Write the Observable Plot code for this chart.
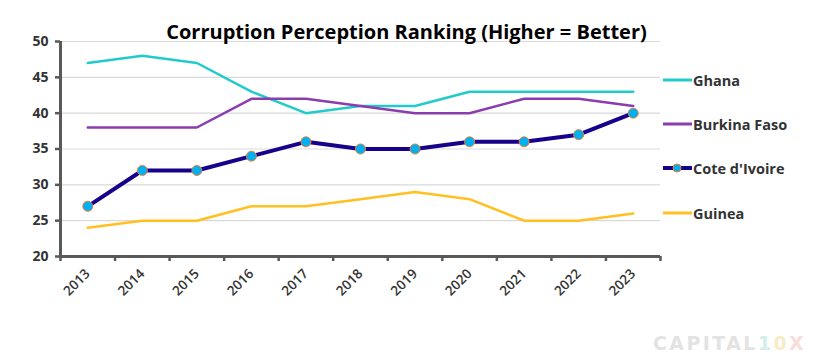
<!DOCTYPE html>
<html>
<head>
<meta charset="utf-8">
<script src="https://cdn.jsdelivr.net/npm/d3@7"></script>
<script src="https://cdn.jsdelivr.net/npm/@observablehq/plot@0.6"></script>
<style>
  html, body { margin: 0; padding: 0; background: #fff; }
  #wrap { position: relative; width: 816px; height: 357px; overflow: hidden; }
  .leg { position: absolute; left: 663px; font-family: "Open Sans", sans-serif; font-weight: 700; font-size: 14.5px; color: #333; display: flex; align-items: center; }
  .leg svg { margin-right: 1px; }
  #logo { position: absolute; left: 653px; top: 334px; line-height: 19px; font-family: "DejaVu Sans", sans-serif; font-weight: 700; font-size: 19px; letter-spacing: 2.4px; white-space: nowrap; }
</style>
</head>
<body>
<div id="wrap"></div>
<script>
const years = [2013, 2014, 2015, 2016, 2017, 2018, 2019, 2020, 2021, 2022, 2023];
const ghana = [47, 48, 47, 43, 40, 41, 41, 43, 43, 43, 43];
const burkinaFaso = [38, 38, 38, 42, 42, 41, 40, 40, 42, 42, 41];
const coteDIvoire = [27, 32, 32, 34, 36, 35, 35, 36, 36, 37, 40];
const guinea = [24, 25, 25, 27, 27, 28, 29, 28, 25, 25, 26];
const seriesNames = ["Ghana", "Burkina Faso", "Cote d'Ivoire", "Guinea"];
const seriesColors = ["#22CBCB", "#8B3DAF", "#17008A", "#FFC020"];
const yTicks = [20, 25, 30, 35, 40, 45, 50];
const title = "Corruption Perception Ranking (Higher = Better)";

const rows = (name, vals) => years.map((y, i) => ({year: y, value: vals[i], series: name}));
const gh = rows("Ghana", ghana);
const bf = rows("Burkina Faso", burkinaFaso);
const ci = rows("Cote d'Ivoire", coteDIvoire);
const gu = rows("Guinea", guinea);
const edges = d3.range(years[0] - 0.5, years[years.length - 1] + 1, 1);

const font = "'Open Sans', sans-serif";
const chart = Plot.plot({
  width: 816,
  height: 357,
  marginLeft: 60,
  marginRight: 156,
  marginTop: 41,
  marginBottom: 101,
  style: {fontFamily: font, background: "#fff"},
  x: {domain: [years[0] - 0.5, years[years.length - 1] + 0.5]},
  y: {domain: [20, 50]},
  marks: [
    Plot.ruleY(yTicks.slice(1), {stroke: "#d9d9d9", strokeWidth: 1.2, strokeOpacity: 1}),
    Plot.line(gh, {x: "year", y: "value", stroke: seriesColors[0], strokeWidth: 2.5}),
    Plot.line(bf, {x: "year", y: "value", stroke: seriesColors[1], strokeWidth: 2.5}),
    Plot.line(gu, {x: "year", y: "value", stroke: seriesColors[3], strokeWidth: 2.5}),
    Plot.line(ci, {x: "year", y: "value", stroke: seriesColors[2], strokeWidth: 4}),
    Plot.dot(ci, {x: "year", y: "value", r: 5, fill: "#00B0F0", stroke: "#ED7D31", strokeWidth: 1}),
    Plot.ruleX([years[0] - 0.5], {stroke: "#595959", strokeWidth: 3}),
    Plot.ruleY([20], {stroke: "#595959", strokeWidth: 3}),
    Plot.axisY({ticks: yTicks, tickSize: 5, tickPadding: 7, stroke: "#595959", strokeWidth: 2.5, fontSize: 14, fontWeight: 700, fill: "#333", label: null}),
    Plot.axisX({ticks: edges, tickSize: 5, stroke: "#595959", strokeWidth: 2.5, tickFormat: () => "", label: null}),
    Plot.axisX({ticks: years, tickSize: 0, tickRotate: -45, tickPadding: 15, tickFormat: d => String(d), fontSize: 13.5, fontWeight: 600, fill: "#333", label: null}),
    Plot.text([title], {frameAnchor: "top", dx: 46, dy: -17, fontSize: 20, fontWeight: 700, fill: "#000", fontFamily: "'Open Sans', sans-serif"})
  ]
});
const wrap = document.getElementById("wrap");
wrap.appendChild(chart);

const legTops = [80, 124, 168, 213];
seriesNames.forEach((name, i) => {
  const d = document.createElement("div");
  d.className = "leg";
  d.style.top = (legTops[i] - 10) + "px";
  const sw = i === 2 ? 4 : 3;
  const dot = i === 2 ? `<circle cx="14" cy="10" r="4" fill="#00B0F0" stroke="#ED7D31" stroke-width="1"/>` : "";
  d.innerHTML = `<svg width="29" height="20"><line x1="0" x2="29" y1="10" y2="10" stroke="${seriesColors[i]}" stroke-width="${sw}"/>${dot}</svg><span>${name}</span>`;
  wrap.appendChild(d);
});
const logo = document.createElement("div");
logo.id = "logo";
logo.innerHTML = `<span style="color:#e3e3e3">CAPITAL</span><span style="color:#d2efe8">1</span><span style="color:#f8ecc8">0</span><span style="color:#f9dcdc">X</span>`;
wrap.appendChild(logo);
</script>
</body>
</html>
